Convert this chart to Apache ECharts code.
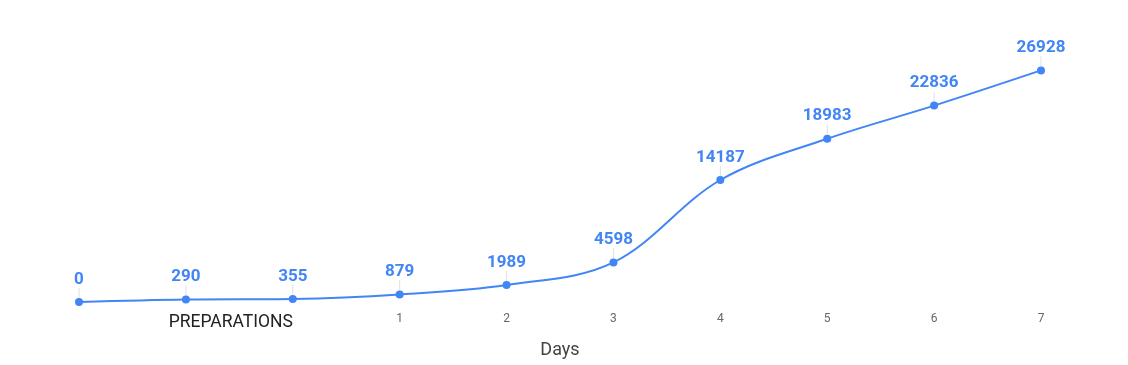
<!DOCTYPE html>
<html>
<head>
<meta charset="utf-8">
<script src="https://cdn.jsdelivr.net/npm/echarts@6/dist/echarts.min.js"></script>
<style>
html,body{margin:0;padding:0;background:#fff;}
#c{width:1128px;height:365px;}
</style>
</head>
<body>
<div id="c"></div>
<script>
var categories = ['', '', 'PREPARATIONS', '1', '2', '3', '4', '5', '6', '7'];
var values = [0, 290, 355, 879, 1989, 4598, 14187, 18983, 22836, 26928];
var axisTitle = 'Days';

var chart = echarts.init(document.getElementById('c'), null, {renderer: 'canvas'});
chart.setOption({
  animation: false,
  grid: {left: 79, right: 87, top: 44, bottom: 63},
  xAxis: {
    type: 'category',
    data: categories,
    boundaryGap: false,
    name: axisTitle,
    nameLocation: 'middle',
    nameGap: 39,
    nameTextStyle: {fontFamily: 'Roboto', fontSize: 18, color: '#444'},
    axisLine: {show: false},
    axisTick: {show: false},
    splitLine: {show: false},
    axisLabel: {
      interval: 0,
      margin: 11,
      fontFamily: 'Roboto',
      fontSize: 12,
      color: '#666',
      formatter: function (v) {
        if (v === 'PREPARATIONS') return '{p|' + v + '}';
        return v;
      },
      rich: {
        p: {fontFamily: 'Roboto', fontSize: 17.5, color: '#222', padding: [1, 124, 0, 0]}
      }
    }
  },
  yAxis: {
    type: 'value',
    min: 0,
    max: 30000,
    show: false,
    splitLine: {show: false}
  },
  series: [{
    type: 'line',
    data: values,
    smooth: 0.35,
    symbol: 'circle',
    symbolSize: 8,
    itemStyle: {color: '#4285F4'},
    lineStyle: {color: '#4285F4', width: 2},
    label: {
      show: true,
      position: 'top',
      distance: 4,
      fontFamily: 'Roboto',
      fontSize: 17,
      fontWeight: 'bold',
      color: '#4285F4'
    },
    labelLayout: {dy: -6},
    labelLine: {show: true, lineStyle: {color: '#e0e0e0', width: 1}}
  }]
});
</script>
</body>
</html>
